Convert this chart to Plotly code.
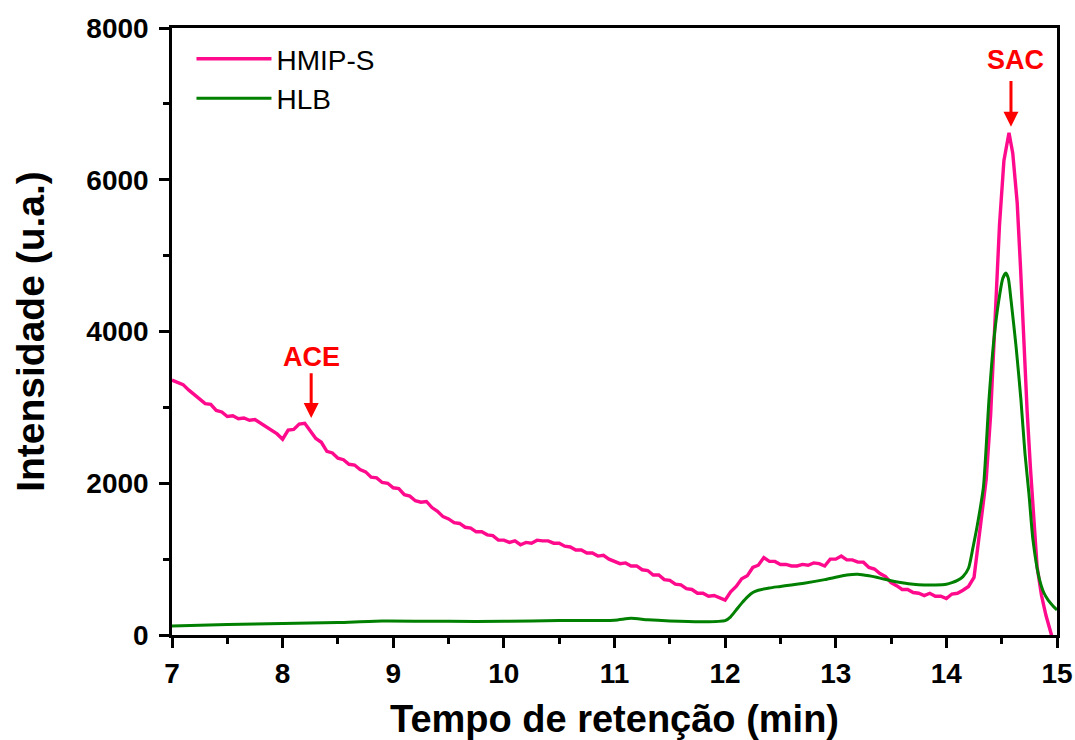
import plotly.graph_objects as go

# ---- data ----
hmip_time = [7.00, 7.05, 7.10, 7.15, 7.20, 7.25, 7.30, 7.35, 7.40, 7.45, 7.50, 7.55, 7.60, 7.65, 7.70, 7.75,
             7.80, 7.85, 7.90, 7.95, 8.00, 8.05, 8.10, 8.15, 8.20, 8.25, 8.30, 8.35, 8.40, 8.45, 8.50, 8.55,
             8.60, 8.65, 8.70, 8.75, 8.80, 8.85, 8.90, 8.95, 9.00, 9.05, 9.10, 9.15, 9.20, 9.25, 9.30, 9.35,
             9.40, 9.45, 9.50, 9.55, 9.60, 9.65, 9.70, 9.75, 9.80, 9.85, 9.90, 9.95, 10.00, 10.05, 10.10, 10.15,
             10.20, 10.25, 10.30, 10.35, 10.40, 10.45, 10.50, 10.55, 10.60, 10.65, 10.70, 10.75, 10.80, 10.85,
             10.90, 10.95, 11.00, 11.05, 11.10, 11.15, 11.20, 11.25, 11.30, 11.35, 11.40, 11.45, 11.50, 11.55,
             11.60, 11.65, 11.70, 11.75, 11.80, 11.85, 11.90, 11.95, 12.00, 12.05, 12.10, 12.15, 12.20, 12.25,
             12.30, 12.35, 12.40, 12.45, 12.50, 12.55, 12.60, 12.65, 12.70, 12.75, 12.80, 12.85, 12.90, 12.95,
             13.00, 13.05, 13.10, 13.15, 13.20, 13.25, 13.30, 13.35, 13.40, 13.45, 13.50, 13.55, 13.60, 13.65,
             13.70, 13.75, 13.80, 13.85, 13.90, 13.95, 14.00, 14.05, 14.10, 14.15, 14.20, 14.25,
             14.28, 14.32, 14.36, 14.40, 14.45, 14.48, 14.52, 14.566, 14.60, 14.64, 14.67, 14.70, 14.73,
             14.76, 14.79, 14.82, 14.86, 14.90, 14.95, 15.00]
hmip_intensity = [3360, 3330, 3300, 3230, 3170, 3120, 3050, 3040, 2960, 2940, 2880, 2890, 2850, 2860, 2830, 2840,
                  2790, 2750, 2690, 2650, 2580, 2700, 2710, 2780, 2790, 2690, 2590, 2540, 2420, 2400, 2330, 2310,
                  2250, 2240, 2180, 2150, 2080, 2070, 2010, 2000, 1940, 1930, 1850, 1830, 1770, 1750, 1760, 1680,
                  1630, 1560, 1530, 1480, 1470, 1420, 1410, 1360, 1360, 1320, 1310, 1250, 1250, 1220, 1240, 1190,
                  1220, 1210, 1250, 1240, 1240, 1210, 1210, 1170, 1160, 1120, 1120, 1080, 1080, 1040,
                  1050, 1000, 970, 940, 950, 910, 910, 860, 850, 790, 790, 730, 720, 670,
                  660, 610, 600, 550, 550, 510, 520, 490, 460, 570, 640, 740, 780, 890,
                  920, 1020, 970, 970, 930, 930, 910, 910, 930, 920, 950, 940, 910, 1000,
                  1000, 1040, 990, 990, 960, 960, 890, 870, 810, 770, 690, 650, 600, 600,
                  560, 550, 520, 550, 510, 510, 480, 540, 550, 590, 640, 760,
                  1100, 1550, 2050, 2900, 4350, 5400, 6250, 6620, 6350, 5700, 4850, 3800, 2950,
                  2200, 1500, 900, 520, 260, 0, -400]

hlb_time = [7.0, 7.5, 8.0, 8.5, 8.9, 9.5, 10.0, 10.5, 11.0, 11.15, 11.3, 11.5, 11.8, 12.0, 12.05, 12.1,
            12.15, 12.2, 12.25, 12.3, 12.4, 12.5, 12.7, 12.9, 13.0, 13.1, 13.2, 13.3, 13.4, 13.5, 13.6,
            13.7, 13.8, 13.9, 14.0, 14.05, 14.1, 14.15, 14.2, 14.24, 14.28, 14.335, 14.385, 14.43, 14.475,
            14.51, 14.538, 14.56, 14.584, 14.63, 14.674, 14.71, 14.747, 14.783, 14.837, 14.88, 14.92,
            14.96, 15.0]
hlb_intensity = [120, 140, 150, 165, 185, 180, 180, 190, 195, 220, 200, 185, 175, 190, 240, 330,
                 420, 500, 560, 590, 620, 640, 680, 730, 760, 790, 800, 780, 750, 715, 690,
                 670, 660, 660, 670, 690, 720, 770, 880, 1150, 1450, 1950, 3100, 3900, 4420,
                 4700, 4770, 4700, 4420, 3800, 3100, 2400, 1850, 1250, 760, 560, 460,
                 390, 330]

x_ticks = [7, 8, 9, 10, 11, 12, 13, 14, 15]
y_ticks = [0, 2000, 4000, 6000, 8000]

peak_labels = ["ACE", "SAC"]
peak_times = [8.258, 14.584]
peak_tip = [2860, 6700]
peak_tail = [3470, 7320]
peak_text_y = [3660, 7580]

assert len(hmip_time) == len(hmip_intensity)
assert len(hlb_time) == len(hlb_intensity)

PINK = "#FF0A8C"
GREEN = "#008000"
RED = "#FF0000"
FONT = "Liberation Sans, Arial, sans-serif"

fig = go.Figure()
fig.add_trace(go.Scatter(x=hmip_time, y=hmip_intensity, mode="lines", name="HMIP-S",
                         line=dict(color=PINK, width=3.4)))
fig.add_trace(go.Scatter(x=hlb_time, y=hlb_intensity, mode="lines", name="HLB",
                         line=dict(color=GREEN, width=3, shape="spline", smoothing=0.6)))

for lab, xt, yt, ya, ytxt in zip(peak_labels, peak_times, peak_tip, peak_tail, peak_text_y):
    fig.add_annotation(x=xt, y=yt, ax=xt, ay=ya, axref="x", ayref="y", xref="x", yref="y",
                       text="", showarrow=True, arrowhead=2, arrowsize=1, arrowwidth=3,
                       arrowcolor=RED, standoff=0, startstandoff=0)
    fig.add_annotation(x=xt + (0.045 if lab == "SAC" else 0.0), y=ytxt, xref="x", yref="y",
                       text=lab, showarrow=False,
                       font=dict(family=FONT, size=27, color=RED, weight="bold"))

axis_common = dict(showline=True, linecolor="black", linewidth=2.5, mirror=True,
                   ticks="outside", tickcolor="black", tickwidth=2.5, ticklen=10,
                   showgrid=False, zeroline=False, automargin=False,
                   tickfont=dict(family=FONT, size=28, color="black", weight="bold"))

fig.update_xaxes(range=[7, 15], tickvals=x_ticks, ticktext=[str(v) for v in x_ticks],
                 minor=dict(ticks="outside", ticklen=6, tickwidth=2.5, tickcolor="black", dtick=0.5),
                 ticklabelstandoff=2,
                 title=dict(text="Tempo de retenção (min)", standoff=24,
                            font=dict(family=FONT, size=38, color="black", weight="bold")),
                 **axis_common)
fig.update_yaxes(range=[0, 8000], tickvals=y_ticks, ticktext=[str(v) for v in y_ticks],
                 minor=dict(ticks="outside", ticklen=6, tickwidth=2.5, tickcolor="black", dtick=1000),
                 ticklabelstandoff=5,
                 title=dict(text="Intensidade (u.a.)", standoff=30,
                            font=dict(family=FONT, size=39, color="black", weight="bold")),
                 **axis_common)

fig.update_layout(
    width=1075, height=740,
    margin=dict(l=172, r=18, t=28, b=105, autoexpand=False),
    paper_bgcolor="white", plot_bgcolor="white",
    showlegend=True,
    legend=dict(x=0.022, y=0.99, xanchor="left", yanchor="top", bgcolor="rgba(0,0,0,0)",
                font=dict(family=FONT, size=28, color="black"),
                itemwidth=75, tracegroupgap=0),
)

fig.write_html("out.html")
